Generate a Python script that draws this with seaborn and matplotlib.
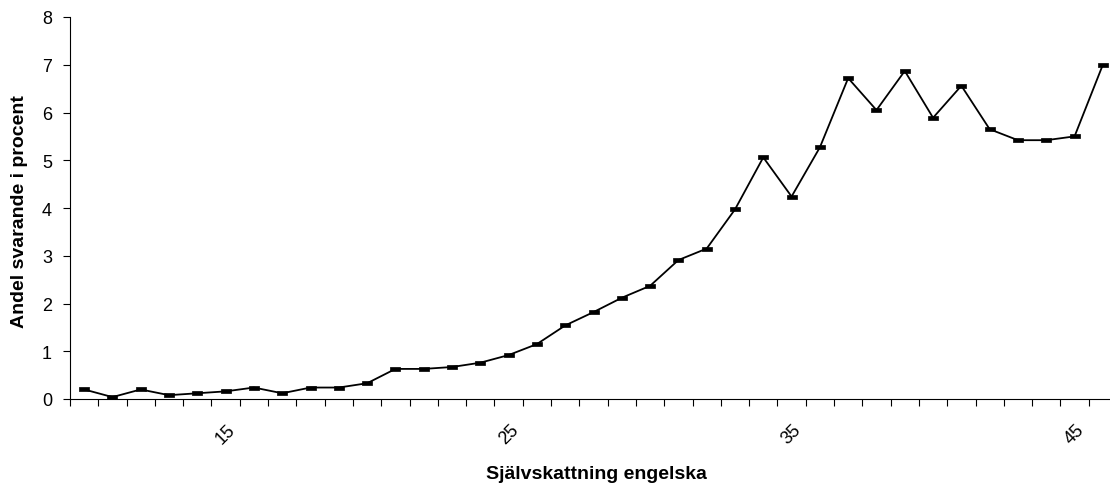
import matplotlib
matplotlib.use("Agg")
import matplotlib.pyplot as plt
import seaborn as sns
import pandas as pd
import numpy as np

scores = list(range(10, 47))
values = [0.20, 0.04, 0.20, 0.08, 0.12, 0.16, 0.24, 0.12, 0.24, 0.24,
          0.33, 0.63, 0.63, 0.67, 0.76, 0.92, 1.15, 1.54, 1.82, 2.12,
          2.37, 2.91, 3.15, 3.97, 5.06, 4.24, 5.27, 6.72, 6.05, 6.87,
          5.89, 6.56, 5.65, 5.42, 5.42, 5.50, 7.00]
label_scores = [15, 25, 35, 45]
y_ticks = [0, 1, 2, 3, 4, 5, 6, 7, 8]
x_title = "Självskattning engelska"
y_title = "Andel svarande i procent"

sns.set_theme(style="white")
plt.rcParams['font.family'] = ['Liberation Sans', 'DejaVu Sans']
plt.rcParams['text.color'] = 'black'
plt.rcParams['axes.labelcolor'] = 'black'
plt.rcParams['xtick.color'] = 'black'
plt.rcParams['ytick.color'] = 'black'

df = pd.DataFrame({"score": scores, "value": values})

fig = plt.figure(figsize=(11.10, 4.89), dpi=100)
W, H = 1110, 489
ax = fig.add_axes([70 / W, 1 - 400 / H, 1047 / W, (400 - 18) / H])

rect = [(-1, -0.5), (1, -0.5), (1, 0.5), (-1, 0.5), (-1, -0.5)]
sns.lineplot(data=df, x="score", y="value", ax=ax, color="black", linewidth=1.3,
             marker=rect, markersize=7, markerfacecolor="black",
             markeredgecolor="black", markeredgewidth=0.5)

ax.set_xlim(scores[0] - 0.5, scores[-1] + 0.5)
ax.set_ylim(0, 8)
ax.set_yticks(y_ticks)
ax.set_yticklabels([str(v) for v in y_ticks], fontsize=13, color="black")

ax.set_xticks(label_scores)
ax.set_xticklabels([str(v) for v in label_scores], rotation=45, fontsize=13,
                   ha="center", va="center", color="black")
ax.set_xticks(np.arange(scores[0] - 0.5, scores[-1] + 1.0, 1.0), minor=True)
ax.tick_params(axis="x", which="major", length=0, pad=25)
ax.tick_params(axis="x", which="minor", length=5, width=0.8, color="black",
               direction="out", bottom=True)
ax.tick_params(axis="y", which="major", length=5, width=0.8, color="black",
               direction="out", left=True, pad=8)

for s in ["top", "right"]:
    ax.spines[s].set_visible(False)
for s in ["left", "bottom"]:
    ax.spines[s].set_color("black")
    ax.spines[s].set_linewidth(0.8)

ax.set_xlabel(x_title, fontsize=14, fontweight="bold", va="center", color="black")
ax.set_ylabel(y_title, fontsize=14, fontweight="bold", va="center", color="black")
ax.xaxis.set_label_coords((596 - 70) / 1047, (400 - 475) / 382)
ax.yaxis.set_label_coords((20 - 70) / 1047, (400 - 212) / 382)
ax.grid(False)

fig.savefig("out.png", dpi=100)
